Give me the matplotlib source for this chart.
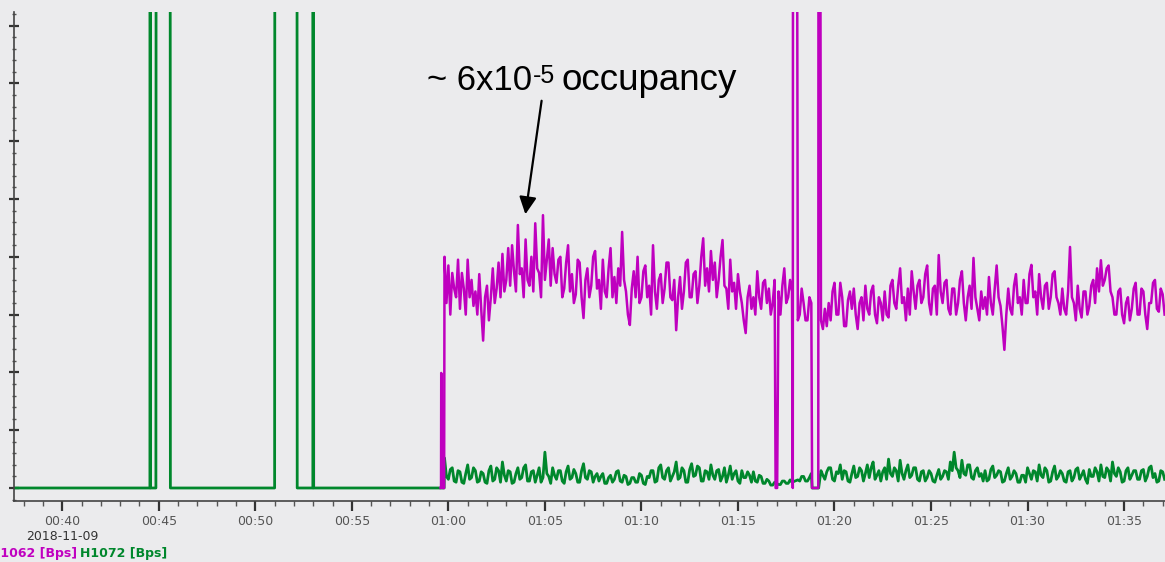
import numpy as np
import matplotlib
matplotlib.use("Agg")
import matplotlib.pyplot as plt
from matplotlib.ticker import MultipleLocator, FuncFormatter

# time in minutes after midnight (2018-11-09), values in Bps (arbitrary scale)
OFF = 2000  # beyond the top of the plot

# before 01:00, only sparse bursts
green_pre_t = [37.5, 44.54, 44.55, 44.57, 44.85, 44.87, 45.58, 45.6, 51.0, 51.02, 52.15, 52.17, 52.98, 52.99, 53.01, 59.78]
green_pre_v = [0, 0, OFF, 0, 0, OFF, OFF, 0, 0, OFF, OFF, 0, 0, OFF, 0, 0]
mag_spike_t = [53.0, 53.03, 53.06]
mag_spike_v = [0, OFF, 0]
mag_pre_t = [59.6, 59.62, 59.63, 59.7, 59.78]
mag_pre_v = [0, 0, 199, 0, 0]

# noise after 01:00, sampled every 0.1 min from 00:59:48
noise_t0 = 59.8
noise_dt = 0.1
magenta = [
    400, 320, 385, 300, 372, 345, 330, 395, 310, 372, 345, 300, 395, 330, 360, 315, 340, 300, 370, 310,
    255, 330, 350, 290, 330, 380, 320, 345, 390, 330, 405, 340, 360, 415, 350, 420, 375, 340, 455, 370,
    380, 330, 430, 360, 350, 400, 340, 458, 380, 372, 330, 472, 360, 395, 430, 350, 415, 370, 355, 395,
    400, 330, 345, 390, 420, 340, 370, 320, 335, 395, 390, 330, 294, 360, 380, 330, 350, 400, 410, 345,
    360, 310, 395, 340, 330, 380, 415, 330, 365, 320, 380, 350, 443, 360, 340, 300, 282, 345, 375, 330,
    400, 320, 330, 375, 385, 330, 350, 300, 420, 340, 310, 360, 370, 320, 345, 390, 390, 330, 325, 360,
    273, 330, 365, 310, 340, 390, 395, 330, 330, 370, 375, 320, 350, 400, 432, 350, 380, 340, 410, 360,
    390, 330, 360, 400, 429, 350, 345, 310, 395, 340, 355, 310, 370, 340, 320, 290, 268, 330, 350, 310,
    330, 300, 375, 330, 310, 355, 360, 320, 345, 300, 320, 360, 350, 340, 300, 350, 380, 320, 330, 360,
    340, 300, 330, 290, 300, 345, 320, 290, 290, 330, 320, 0, 0, 0, 0, 290, 275, 310, 280, 320,
    290, 340, 355, 300, 300, 355, 330, 280, 280, 325, 340, 310, 345, 300, 275, 320, 330, 290, 350, 310,
    300, 340, 350, 300, 285, 330, 320, 290, 340, 300, 295, 350, 360, 320, 310, 350, 380, 320, 330, 290,
    345, 300, 375, 340, 310, 350, 360, 320, 330, 370, 385, 320, 300, 345, 350, 300, 403, 340, 320, 355,
    360, 310, 300, 345, 345, 300, 320, 360, 375, 320, 290, 330, 350, 310, 398, 330, 310, 290, 340, 310,
    330, 300, 365, 320, 300, 345, 385, 330, 315, 280, 239, 300, 345, 310, 300, 350, 370, 320, 330, 300,
    360, 320, 320, 370, 386, 330, 340, 300, 370, 330, 310, 350, 355, 310, 330, 370, 375, 330, 320, 300,
    345, 310, 300, 340, 417, 330, 320, 290, 350, 310, 295, 340, 340, 300, 315, 350, 360, 320, 380, 340,
    394, 350, 360, 380, 385, 340, 330, 300, 300, 340, 345, 300, 285, 320, 330, 290, 310, 345, 355, 300,
    300, 345, 340, 300, 275, 320, 320, 355, 360, 310, 305, 345, 335, 300,
]
green = [
    52, 20, 15, 32, 35, 12, 10, 30, 28, 10, 8, 25, 40, 15, 18, 35, 30, 10, 12, 28,
    25, 10, 8, 30, 38, 12, 15, 35, 30, 10, 45, 22, 12, 30, 28, 8, 10, 25, 35, 15,
    18, 35, 40, 12, 12, 28, 30, 10, 22, 35, 10, 18, 62, 25, 20, 8, 35, 22, 15, 30,
    30, 12, 8, 28, 38, 15, 18, 32, 25, 10, 10, 30, 42, 18, 15, 30, 28, 10, 20, 25,
    12, 20, 25, 8, 8, 18, 22, 10, 15, 28, 30, 12, 10, 22, 20, 6, 8, 18, 18, 10,
    10, 25, 22, 8, 6, 20, 18, 30, 30, 10, 12, 35, 40, 18, 15, 30, 35, 12, 20, 28,
    45, 15, 18, 35, 30, 10, 10, 32, 42, 20, 22, 38, 35, 12, 12, 30, 28, 15, 40, 22,
    15, 30, 32, 12, 20, 35, 10, 22, 38, 15, 25, 30, 12, 8, 30, 18, 18, 28, 22, 10,
    28, 12, 10, 22, 20, 8, 8, 15, 12, 5, 5, 10, 10, 6, 6, 12, 12, 8, 8, 14,
    10, 6, 6, 14, 12, 20, 20, 12, 12, 18, 25, 0, 0, 0, 0, 30, 22, 15, 28, 35,
    35, 15, 12, 28, 25, 40, 15, 30, 28, 12, 10, 25, 38, 18, 20, 35, 30, 12, 25, 40,
    18, 35, 45, 15, 22, 30, 12, 28, 35, 15, 50, 25, 20, 35, 30, 12, 48, 25, 15, 30,
    40, 18, 22, 35, 35, 15, 12, 28, 30, 12, 18, 30, 25, 12, 10, 22, 32, 15, 20, 30,
    28, 15, 45, 30, 62, 35, 30, 18, 48, 25, 22, 40, 40, 18, 15, 30, 35, 20, 25, 12,
    30, 12, 15, 32, 38, 18, 22, 30, 28, 10, 12, 25, 35, 15, 20, 30, 25, 10, 10, 22,
    22, 10, 35, 25, 15, 30, 28, 12, 40, 22, 18, 35, 30, 10, 12, 28, 38, 15, 20, 30,
    25, 12, 10, 28, 30, 12, 18, 32, 35, 15, 22, 30, 15, 8, 32, 20, 20, 35, 28, 12,
    40, 20, 18, 35, 30, 12, 45, 25, 20, 35, 28, 10, 12, 30, 35, 15, 22, 30, 30, 15,
    15, 30, 32, 12, 20, 35, 38, 18, 25, 10, 12, 30, 28, 15,
]

# dropouts / saturations around 01:17-01:19
mag_ev_t = [76.95, 77.03, 77.84, 77.86, 78.01, 78.84, 79.16, 79.18, 79.22]
mag_ev_v = [0, 0, 0, OFF, OFF, 0, 0, OFF, OFF]
green_ev_t = [78.84, 79.18]
green_ev_v = [0, 0]
gaps = [(76.93, 77.06), (77.82, 78.05), (78.82, 79.26)]


def merge(t_noise, v_noise, t_ev, v_ev):
    t_noise = np.asarray(t_noise, float)
    v_noise = np.asarray(v_noise, float)
    keep = np.ones(len(t_noise), bool)
    for a, b in gaps:
        keep &= ~((t_noise > a) & (t_noise < b))
    t = np.concatenate([t_noise[keep], t_ev])
    v = np.concatenate([v_noise[keep], v_ev])
    o = np.argsort(t, kind='stable')
    return t[o], v[o]


t_noise = noise_t0 + noise_dt * np.arange(len(magenta))
mt, mv = merge(t_noise, magenta, mag_ev_t, mag_ev_v)
gt, gv = merge(t_noise[:len(green)], green, green_ev_t, green_ev_v)
mt = np.concatenate([mag_pre_t, mt])
mv = np.concatenate([mag_pre_v, mv])
gt = np.concatenate([green_pre_t, gt])
gv = np.concatenate([green_pre_v, gv])

W, H = 1165, 562
bg = '#ebebed'
fig = plt.figure(figsize=(W / 100, H / 100), dpi=100, facecolor=bg)
ax = fig.add_axes([14 / W, 61 / H, 1 - 14 / W, 489 / H])
ax.set_facecolor(bg)

ax.plot(mag_spike_t, mag_spike_v, color='#d890d8', lw=1.2, zorder=1)
ax.plot(gt, gv, color='#00872c', lw=2.0, zorder=2)
ax.plot(mt, mv, color='#bf00bf', lw=1.8, zorder=3)

ax.set_xlim(37.5, 97.12)
ax.set_ylim(-22.5, 823.5)

ax.xaxis.set_major_locator(MultipleLocator(5))
ax.xaxis.set_minor_locator(MultipleLocator(1))
ax.xaxis.set_major_formatter(FuncFormatter(lambda m, p: "%02d:%02d" % (int(m) // 60, int(m) % 60)))
ax.yaxis.set_major_locator(MultipleLocator(100))
ax.yaxis.set_minor_locator(MultipleLocator(20))

for s in ['top', 'right']:
    ax.spines[s].set_visible(False)
for s in ['left', 'bottom']:
    ax.spines[s].set_color('#444444')
    ax.spines[s].set_linewidth(1.2)

ax.tick_params(axis='x', which='major', length=7, width=1.6, color='#333333',
               labelsize=9, labelcolor='#555555', pad=3)
ax.tick_params(axis='x', which='minor', length=3.5, width=1.0, color='#555555')
ax.tick_params(axis='y', which='major', direction='inout', length=7, width=1.6,
               color='#333333', labelleft=False)
ax.tick_params(axis='y', which='minor', direction='inout', length=3.5, width=1.0,
               color='#555555')

fig.text(62 / W, 1 - 537 / H, '2018-11-09', ha='center', va='center',
         fontsize=9, color='#333333')
fig.text(-10 / W, 1 - 553 / H, 'H1062 [Bps]', ha='left', va='center',
         fontsize=9, color='#c000c0', fontweight='bold')
fig.text(80 / W, 1 - 553 / H, 'H1072 [Bps]', ha='left', va='center',
         fontsize=9, color='#00872c', fontweight='bold')

# annotation, built from three pieces so the exponent stays compact
fig.canvas.draw()
r = fig.canvas.get_renderer()
yb = 1 - 90 / H
t1 = fig.text(427 / W, yb, '~ 6x10', ha='left', va='baseline', fontsize=25,
              family='Liberation Sans', color='black')
b1 = t1.get_window_extent(r)
t2 = fig.text((b1.x1 + 1) / W, yb + 7 / H, '-5', ha='left', va='baseline',
              fontsize=18, family='Liberation Sans', color='black')
b2 = t2.get_window_extent(r)
fig.text((b2.x1 + 6) / W, yb, 'occupancy', ha='left', va='baseline', fontsize=26.5,
         family='Liberation Sans', color='black')
ax.annotate('', xy=(525, H - 217), xycoords='figure pixels',
            xytext=(542, H - 98), textcoords='figure pixels',
            arrowprops=dict(arrowstyle='-|>', color='black', lw=1.6,
                            mutation_scale=26))

fig.savefig('out.png', dpi=100, facecolor=bg)
